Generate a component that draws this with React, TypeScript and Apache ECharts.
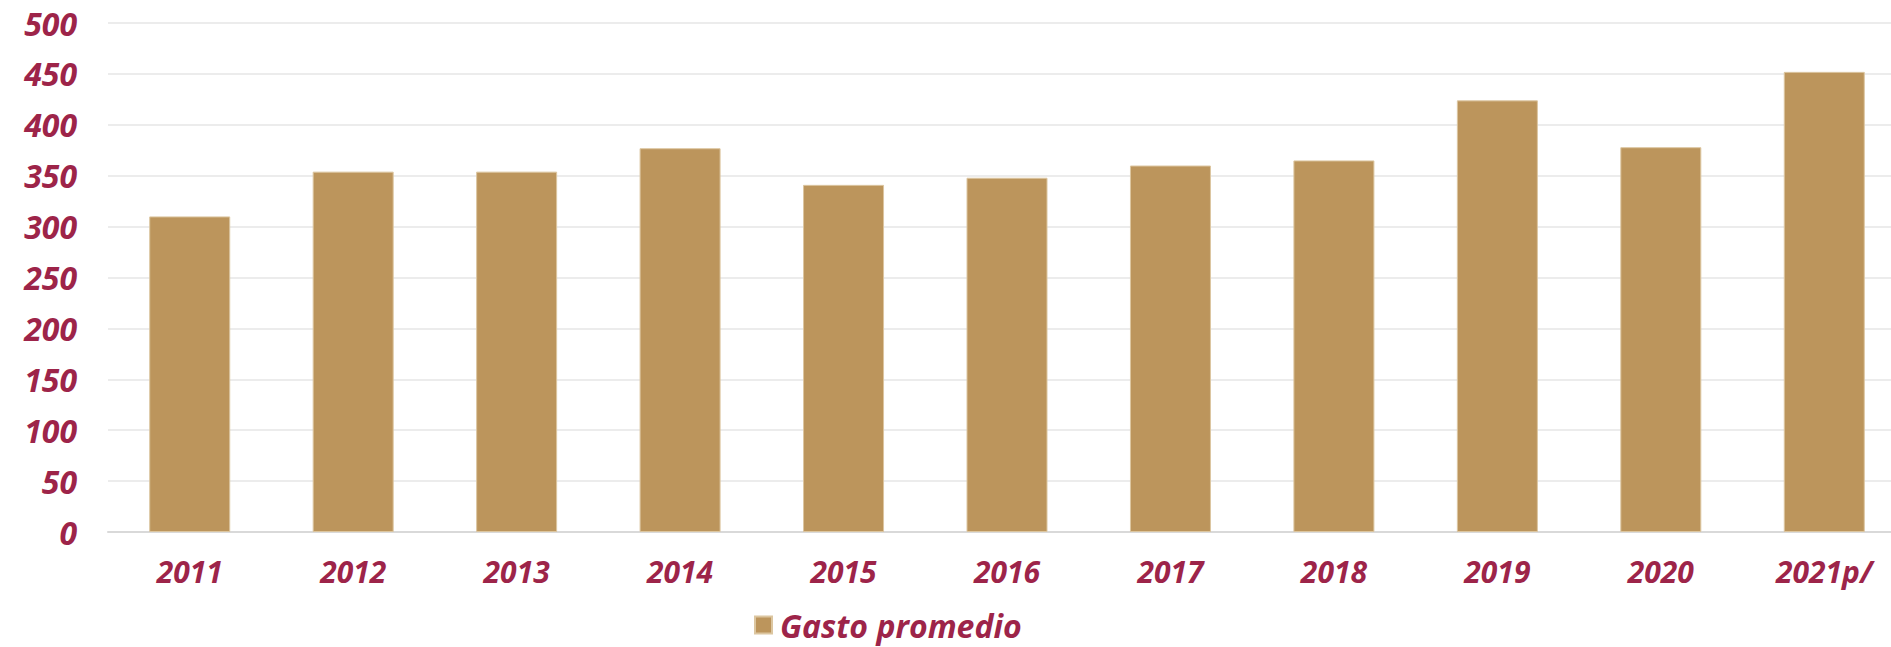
import React, { useEffect, useRef } from "react";
import * as echarts from "echarts";

const categories = ["2011", "2012", "2013", "2014", "2015", "2016", "2017", "2018", "2019", "2020", "2021p/"];
const gastoPromedio = [310, 354, 354, 377, 341, 348, 360, 365, 424, 378, 452];
const seriesName = "Gasto promedio";

const TEXT = "#9d2449";
const BAR = "#bc955c";
const FONT = "'Open Sans', sans-serif";

export default function App() {
  const ref = useRef<HTMLDivElement>(null);
  useEffect(() => {
    if (!ref.current) return;
    const chart = echarts.init(ref.current, null, { renderer: "svg" });
    chart.setOption({
      animation: false,
      backgroundColor: "#ffffff",
      grid: { left: 108, top: 23, width: 1798, height: 509, containLabel: false, outerBoundsMode: "none" },
      legend: {
        data: [seriesName],
        left: 749,
        top: 603,
        icon: "rect",
        itemWidth: 17,
        itemHeight: 17,
        itemGap: 10,
        textStyle: {
          color: TEXT,
          fontFamily: FONT,
          fontSize: 32,
          lineHeight: 34,
          fontWeight: "bold",
          fontStyle: "italic",
          padding: [0, 0, 0, 3],
        },
      },
      xAxis: {
        type: "category",
        data: categories,
        axisLine: { show: true, lineStyle: { color: "#d9d9d9", width: 2 } },
        axisTick: { show: false },
        axisLabel: {
          color: TEXT,
          fontFamily: FONT,
          fontSize: 30,
          fontWeight: "bold",
          fontStyle: "italic",
          margin: 24,
        },
      },
      yAxis: {
        type: "value",
        min: 0,
        max: 500,
        interval: 50,
        axisLine: { show: false },
        axisTick: { show: false },
        splitLine: { lineStyle: { color: "#e6e6e6", width: 1.5 } },
        axisLabel: {
          color: TEXT,
          fontFamily: FONT,
          fontSize: 32,
          fontWeight: "bold",
          fontStyle: "italic",
          margin: 31,
        },
      },
      series: [
        {
          name: seriesName,
          type: "bar",
          data: gastoPromedio,
          barWidth: 81,
          itemStyle: { color: BAR, borderColor: "#dcc6a0", borderWidth: 1 },
        },
      ],
    });
    return () => chart.dispose();
  }, []);
  return <div ref={ref} style={{ position: "absolute", left: 0, top: 0, width: 1891, height: 647 }} />;
}
